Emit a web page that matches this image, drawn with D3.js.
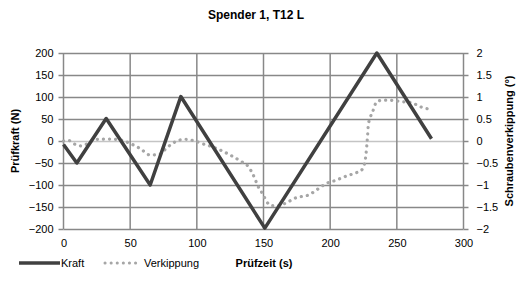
<!DOCTYPE html>
<html><head><meta charset="utf-8">
<script src="https://cdn.jsdelivr.net/npm/d3@7"></script>
<style>body{margin:0;background:#fff}svg{display:block}text{font-family:"Liberation Sans",Arial,sans-serif;fill:#000}</style>
</head><body>
<script>
const title = "Spender 1, T12 L";
const xTicks = [0,50,100,150,200,250,300];
const yLeftTicks = [-200,-150,-100,-50,0,50,100,150,200];
const yRightTicks = [-2,-1.5,-1,-0.5,0,0.5,1,1.5,2];
const kraftT = [0,10,32,65,88,151,235,276];
const kraftV = [-8,-50,51,-100,101,-198,200,5];
const kippT = [0,4,8.6,13,17.4,22.4,27.4,32.4,37.4,43.6,51,57.4,65,72.4,76,81,86,91,97.4,105,112.4,120,127.4,133.6,138.6,142.4,146.1,149.9,152.4,156.1,161.1,167.4,173.6,178.6,183.6,189.9,197.4,203.6,211.1,218.6,223.6,226.1,227.4,228.1,228.6,229.9,231.9,234.9,239.9,247.4,254.9,261.1,267.4,274.9];
const kippV = [0,0.01,-0.075,-0.11,-0.07,0.02,0.04,0.045,0.04,0.015,-0.07,-0.17,-0.32,-0.3,-0.2,-0.07,0.01,0.04,0.01,-0.07,-0.14,-0.24,-0.36,-0.47,-0.58,-0.78,-1.04,-1.23,-1.38,-1.47,-1.47,-1.40,-1.30,-1.26,-1.23,-1.11,-0.96,-0.90,-0.81,-0.73,-0.66,-0.47,-0.13,0.14,0.36,0.52,0.67,0.89,0.93,0.92,0.89,0.87,0.78,0.72];
const seriesNames = ["Kraft","Verkippung"];

const W=523,H=282;
const svg=d3.select("body").append("svg").attr("width",W).attr("height",H);
const x=d3.scaleLinear().domain([0,300]).range([63.5,463.5]);
const yL=d3.scaleLinear().domain([-200,200]).range([229,53]);
const yR=d3.scaleLinear().domain([-2,2]).range([229,53]);
const grid="#888";

svg.append("g").selectAll("line").data(yLeftTicks).join("line")
 .attr("x1",x(0)).attr("x2",x(300)).attr("y1",d=>Math.round(yL(d))+0.5).attr("y2",d=>Math.round(yL(d))+0.5)
 .attr("stroke",d=>d===0?"#c4c4c4":grid).attr("stroke-width",1.5);
svg.append("g").selectAll("line").data(xTicks).join("line")
 .attr("x1",d=>x(d)).attr("x2",d=>x(d)).attr("y1",yL(200)).attr("y2",yL(-200))
 .attr("stroke",grid).attr("stroke-width",1.5);

const ga=svg.append("g").attr("transform",`translate(${x(0)},0)`)
 .call(d3.axisLeft(yL).tickValues(yLeftTicks).tickSize(5).tickPadding(5));
ga.select(".domain").remove();
ga.selectAll(".tick line").attr("stroke",grid).attr("stroke-width",1.5);
ga.selectAll("text").style("font-size","11px").attr("fill","#000");
const gr=svg.append("g").attr("transform",`translate(${x(300)},0)`)
 .call(d3.axisRight(yR).tickValues(yRightTicks).tickSize(5).tickPadding(8).tickFormat(d3.format("")));
gr.select(".domain").remove();
gr.selectAll(".tick line").attr("stroke",grid).attr("stroke-width",1.5);
gr.selectAll("text").style("font-size","11px").attr("fill","#000");
const gb=svg.append("g").attr("transform",`translate(0,${yL(-200)})`)
 .call(d3.axisBottom(x).tickValues(xTicks).tickSize(0).tickPadding(10));
gb.select(".domain").remove();
gb.selectAll("text").style("font-size","11px").attr("fill","#000");

const kraft=kraftT.map((t,i)=>[t,kraftV[i]]);
const kipp=kippT.map((t,i)=>[t,kippV[i]]);
svg.append("path").datum(kipp).attr("fill","none").attr("stroke","#a6a6a6").attr("stroke-width",3.2)
 .attr("stroke-linecap","round").attr("stroke-dasharray","0.1,6")
 .attr("d",d3.line().x(d=>x(d[0])).y(d=>yR(d[1])).curve(d3.curveMonotoneX));
svg.append("path").datum(kraft).attr("fill","none").attr("stroke","#404040").attr("stroke-width",3.5)
 .attr("stroke-linejoin","round")
 .attr("d",d3.line().x(d=>x(d[0])).y(d=>yL(d[1])));

svg.append("text").attr("x",256).attr("y",19).attr("text-anchor","middle").style("font-size","12px").style("font-weight","bold").text(title);
svg.append("text").attr("transform","translate(19,141) rotate(-90)").attr("text-anchor","middle").style("font-size","11px").style("font-weight","bold").text("Prüfkraft (N)");
svg.append("text").attr("transform","translate(513,141) rotate(-90)").attr("text-anchor","middle").style("font-size","11px").style("font-weight","bold").text("Schraubenverkippung (°)");
svg.append("text").attr("x",264).attr("y",267).attr("text-anchor","middle").style("font-size","11px").style("font-weight","bold").text("Prüfzeit (s)");

const lg=svg.append("g");
lg.append("line").attr("x1",19).attr("x2",60).attr("y1",263).attr("y2",263).attr("stroke","#404040").attr("stroke-width",3.5);
lg.append("text").attr("x",61).attr("y",267).style("font-size","11px").text(seriesNames[0]);
lg.append("line").attr("x1",105).attr("x2",141).attr("y1",263).attr("y2",263).attr("stroke","#a6a6a6").attr("stroke-width",3).attr("stroke-linecap","round").attr("stroke-dasharray","0.1,6");
lg.append("text").attr("x",144).attr("y",267).style("font-size","11px").text(seriesNames[1]);
</script>
</body></html>
